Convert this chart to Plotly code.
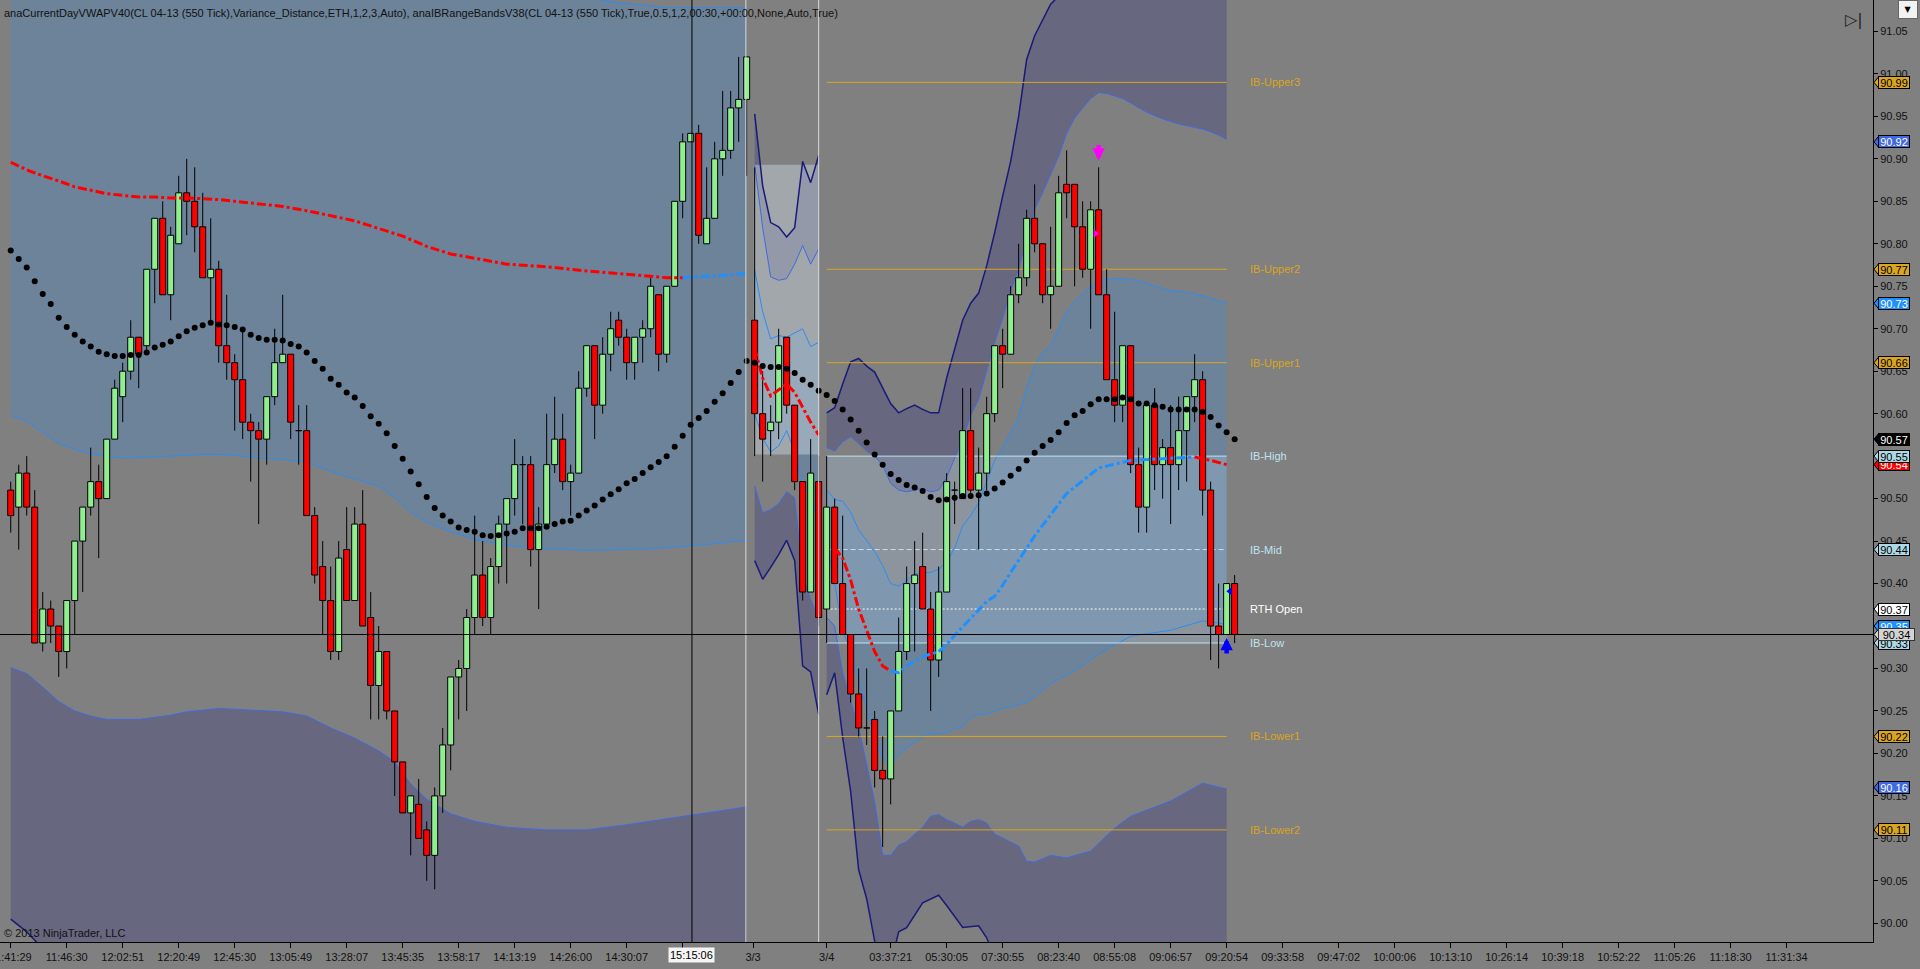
import plotly.graph_objects as go

FONT = "Liberation Sans, Arial, sans-serif"

# ---- candles (550 tick bars, bar index on x) ----
bars = list(range(154))
opens = [90.51, 90.49, 90.53, 90.49, 90.33, 90.37, 90.35, 90.32, 90.38, 90.45,
         90.49, 90.52, 90.50, 90.57, 90.62, 90.65, 90.69, 90.68, 90.77, 90.83,
         90.74, 90.80, 90.86, 90.85, 90.82, 90.76, 90.77, 90.68, 90.66, 90.64,
         90.59, 90.58, 90.57, 90.62, 90.66, 90.67, 90.58, 90.58, 90.48, 90.42,
         90.38, 90.32, 90.44, 90.38, 90.47, 90.36, 90.28, 90.32, 90.25, 90.19,
         90.13, 90.14, 90.11, 90.08, 90.15, 90.21, 90.29, 90.30, 90.36, 90.41,
         90.36, 90.42, 90.47, 90.50, 90.54, 90.54, 90.44, 90.47, 90.54, 90.57,
         90.52, 90.53, 90.63, 90.68, 90.61, 90.67, 90.71, 90.69, 90.66, 90.69,
         90.70, 90.74, 90.67, 90.75, 90.85, 90.92, 90.93, 90.80, 90.83, 90.90,
         90.91, 90.96, 90.97, 90.71, 90.60, 90.58, 90.59, 90.69, 90.61, 90.52,
         90.39, 90.52, 90.37, 90.49, 90.40, 90.34, 90.27, 90.23, 90.24, 90.18,
         90.17, 90.25, 90.32, 90.40, 90.42, 90.37, 90.31, 90.39, 90.51, 90.50,
         90.58, 90.51, 90.53, 90.60, 90.68, 90.67, 90.74, 90.76, 90.83, 90.80,
         90.74, 90.75, 90.87, 90.87, 90.82, 90.77, 90.84, 90.74, 90.64, 90.61,
         90.68, 90.54, 90.49, 90.61, 90.54, 90.56, 90.54, 90.58, 90.62, 90.64,
         90.51, 90.35, 90.34, 90.40]
highs = [90.52, 90.54, 90.55, 90.51, 90.39, 90.38, 90.35, 90.38, 90.45, 90.49,
         90.56, 90.54, 90.57, 90.64, 90.66, 90.71, 90.69, 90.77, 90.83, 90.85,
         90.82, 90.88, 90.90, 90.89, 90.86, 90.83, 90.78, 90.74, 90.67, 90.70,
         90.60, 90.59, 90.62, 90.70, 90.74, 90.67, 90.61, 90.61, 90.49, 90.45,
         90.42, 90.45, 90.49, 90.49, 90.51, 90.39, 90.35, 90.32, 90.25, 90.19,
         90.15, 90.17, 90.12, 90.16, 90.23, 90.29, 90.31, 90.37, 90.48, 90.45,
         90.43, 90.48, 90.50, 90.57, 90.55, 90.55, 90.49, 90.60, 90.62, 90.60,
         90.54, 90.65, 90.68, 90.68, 90.69, 90.72, 90.72, 90.70, 90.69, 90.71,
         90.76, 90.74, 90.75, 90.85, 90.93, 90.93, 90.94, 90.89, 90.92, 90.98,
         90.98, 91.02, 91.02, 90.89, 90.65, 90.61, 90.70, 90.69, 90.61, 90.52,
         90.57, 90.55, 90.55, 90.50, 90.48, 90.34, 90.30, 90.30, 90.25, 90.22,
         90.25, 90.36, 90.42, 90.45, 90.46, 90.39, 90.42, 90.53, 90.52, 90.63,
         90.63, 90.56, 90.62, 90.68, 90.70, 90.75, 90.80, 90.84, 90.87, 90.80,
         90.82, 90.88, 90.91, 90.87, 90.85, 90.85, 90.89, 90.77, 90.72, 90.68,
         90.68, 90.56, 90.61, 90.63, 90.57, 90.61, 90.62, 90.62, 90.67, 90.65,
         90.52, 90.40, 90.40, 90.41]
lows = [90.46, 90.44, 90.48, 90.33, 90.32, 90.33, 90.29, 90.30, 90.34, 90.39,
        90.48, 90.43, 90.50, 90.57, 90.59, 90.64, 90.63, 90.67, 90.73, 90.74,
        90.71, 90.80, 90.81, 90.79, 90.76, 90.71, 90.66, 90.64, 90.58, 90.57,
        90.52, 90.47, 90.54, 90.61, 90.66, 90.57, 90.54, 90.48, 90.40, 90.34,
        90.31, 90.31, 90.38, 90.38, 90.35, 90.24, 90.24, 90.24, 90.15, 90.13,
        90.08, 90.10, 90.05, 90.04, 90.13, 90.18, 90.24, 90.25, 90.34, 90.35,
        90.34, 90.40, 90.40, 90.48, 90.47, 90.42, 90.37, 90.47, 90.53, 90.51,
        90.48, 90.53, 90.62, 90.57, 90.60, 90.65, 90.68, 90.64, 90.64, 90.66,
        90.69, 90.65, 90.66, 90.75, 90.83, 90.92, 90.80, 90.80, 90.83, 90.88,
        90.90, 90.92, 90.88, 90.55, 90.52, 90.55, 90.57, 90.60, 90.51, 90.38,
        90.39, 90.35, 90.33, 90.40, 90.34, 90.26, 90.22, 90.21, 90.16, 90.09,
        90.14, 90.25, 90.31, 90.32, 90.37, 90.25, 90.29, 90.39, 90.47, 90.50,
        90.50, 90.44, 90.51, 90.59, 90.63, 90.67, 90.73, 90.75, 90.79, 90.73,
        90.70, 90.75, 90.83, 90.75, 90.76, 90.70, 90.74, 90.64, 90.59, 90.59,
        90.53, 90.46, 90.46, 90.51, 90.50, 90.47, 90.51, 90.52, 90.59, 90.48,
        90.31, 90.30, 90.34, 90.33]
closes = [90.48, 90.53, 90.49, 90.33, 90.37, 90.35, 90.32, 90.38, 90.45, 90.49,
          90.52, 90.50, 90.57, 90.63, 90.65, 90.69, 90.67, 90.77, 90.83, 90.74,
          90.81, 90.86, 90.85, 90.82, 90.76, 90.77, 90.68, 90.66, 90.64, 90.59,
          90.58, 90.57, 90.62, 90.66, 90.67, 90.59, 90.58, 90.48, 90.41, 90.38,
          90.32, 90.43, 90.38, 90.47, 90.35, 90.28, 90.32, 90.25, 90.19, 90.13,
          90.15, 90.10, 90.08, 90.15, 90.21, 90.29, 90.30, 90.36, 90.41, 90.36,
          90.42, 90.47, 90.50, 90.54, 90.54, 90.44, 90.47, 90.54, 90.57, 90.52,
          90.53, 90.63, 90.68, 90.61, 90.67, 90.70, 90.69, 90.66, 90.69, 90.70,
          90.75, 90.67, 90.75, 90.85, 90.92, 90.93, 90.81, 90.83, 90.90, 90.91,
          90.96, 90.97, 91.02, 90.60, 90.57, 90.59, 90.68, 90.61, 90.52, 90.39,
          90.53, 90.36, 90.49, 90.40, 90.34, 90.27, 90.23, 90.23, 90.18, 90.17,
          90.25, 90.32, 90.40, 90.41, 90.37, 90.31, 90.39, 90.52, 90.51, 90.58,
          90.51, 90.53, 90.60, 90.68, 90.67, 90.74, 90.76, 90.83, 90.80, 90.74,
          90.75, 90.86, 90.86, 90.82, 90.77, 90.84, 90.74, 90.64, 90.61, 90.68,
          90.54, 90.49, 90.61, 90.54, 90.56, 90.54, 90.58, 90.62, 90.64, 90.51,
          90.35, 90.34, 90.40, 90.34]

# black dotted average, one value per bar
avg_dots = [90.792, 90.782, 90.772, 90.756, 90.741, 90.729, 90.713, 90.702, 90.693, 90.685,
            90.679, 90.673, 90.670, 90.668, 90.668, 90.669, 90.669, 90.672, 90.678, 90.681,
            90.685, 90.691, 90.697, 90.701, 90.704, 90.707, 90.705, 90.704, 90.702, 90.699,
            90.693, 90.689, 90.687, 90.687, 90.686, 90.682, 90.679, 90.672, 90.662, 90.653,
            90.641, 90.634, 90.625, 90.619, 90.609, 90.597, 90.588, 90.577, 90.562, 90.547,
            90.532, 90.517, 90.502, 90.489, 90.480, 90.473, 90.466, 90.463, 90.461, 90.457,
            90.456, 90.457, 90.459, 90.461, 90.465, 90.465, 90.465, 90.467, 90.470, 90.473,
            90.474, 90.480, 90.486, 90.492, 90.499, 90.505, 90.511, 90.518, 90.523, 90.530,
            90.537, 90.543, 90.550, 90.561, 90.574, 90.587, 90.595, 90.603, 90.614, 90.624,
            90.636, 90.649, 90.662, 90.660, 90.656, 90.655, 90.655, 90.653, 90.648, 90.640,
            90.634, 90.627, 90.622, 90.615, 90.605, 90.593, 90.580, 90.566, 90.552, 90.540,
            90.529, 90.522, 90.516, 90.513, 90.509, 90.502, 90.498, 90.499, 90.501, 90.503,
            90.503, 90.504, 90.506, 90.512, 90.519, 90.527, 90.535, 90.545, 90.554, 90.562,
            90.569, 90.578, 90.589, 90.598, 90.603, 90.611, 90.617, 90.617, 90.617, 90.619,
            90.617, 90.612, 90.612, 90.610, 90.608, 90.605, 90.605, 90.605, 90.605, 90.602,
            90.596, 90.586, 90.578, 90.570]

# ---- VWAP (dash-dot, red falling / blue rising) ----
vw1_red_x = [0, 2, 4, 6, 8, 10, 12, 14, 16, 18, 20, 22, 24, 26, 28, 31, 34, 37, 40, 43,
             46, 49, 52, 55, 58, 62, 67, 72, 77, 82, 84]
vw1_red = [90.896, 90.887, 90.880, 90.874, 90.867, 90.863, 90.859, 90.857, 90.855, 90.855,
           90.854, 90.854, 90.853, 90.852, 90.850, 90.847, 90.844, 90.839, 90.833, 90.827,
           90.818, 90.809, 90.797, 90.788, 90.783, 90.776, 90.773, 90.768, 90.764, 90.760, 90.760]
vw1_blue_x = [84, 85, 88, 92]
vw1_blue = [90.760, 90.761, 90.762, 90.765]
vw2_red_x = list(range(93, 102))
vw2_red = [90.677, 90.642, 90.621, 90.628, 90.635, 90.625, 90.607, 90.590, 90.575]
vw3_red_x = [103, 104, 105, 106, 107, 108, 109, 110]
vw3_red = [90.442, 90.430, 90.404, 90.370, 90.345, 90.320, 90.303, 90.297]
vw3_blue_x = [110, 111, 112, 113, 114, 116, 117, 118, 119, 120, 121, 122, 123, 124, 125,
              128, 132, 136, 140, 144, 148]
vw3_blue = [90.297, 90.295, 90.303, 90.309, 90.314, 90.320, 90.328, 90.339, 90.349, 90.360,
            90.370, 90.379, 90.385, 90.398, 90.413, 90.456, 90.506, 90.536, 90.545, 90.547, 90.549]
vw3_red2_x = [148, 150, 152]
vw3_red2 = [90.549, 90.545, 90.540]

# ---- deviation bands, session 1 (bars 0-92) ----
s1_sd1u_x = [0, 20, 40, 60, 75, 82, 92]
s1_sd1u = [91.19, 91.16, 91.14, 91.11, 91.085, 91.078, 91.078]
s1_sd1l_x = [0, 2, 4, 6, 8, 10, 12, 14, 16, 18, 20, 22, 24, 26, 28, 31, 34, 37, 40, 43,
             46, 48, 50, 52, 55, 58, 62, 67, 72, 77, 82, 87, 92]
s1_sd1l = [90.598, 90.591, 90.578, 90.565, 90.558, 90.553, 90.549, 90.548, 90.548, 90.549,
           90.550, 90.551, 90.552, 90.552, 90.551, 90.548, 90.546, 90.543, 90.532, 90.523,
           90.515, 90.501, 90.484, 90.472, 90.461, 90.452, 90.445, 90.441, 90.439, 90.440,
           90.442, 90.446, 90.451]
s1_sd2l_x = [0, 2, 4, 6, 8, 10, 12, 16, 20, 22, 26, 31, 34, 37, 40, 43, 46, 48, 50, 52,
             55, 58, 62, 67, 72, 77, 82, 87, 92]
s1_sd2l = [90.301, 90.294, 90.278, 90.261, 90.250, 90.244, 90.240, 90.240, 90.245, 90.249,
           90.253, 90.250, 90.249, 90.244, 90.230, 90.218, 90.203, 90.190, 90.164, 90.146,
           90.129, 90.120, 90.113, 90.110, 90.110, 90.116, 90.123, 90.130, 90.137]
s1_sd3l_x = [0, 1, 2, 3, 5, 92]
s1_sd3l = [90.005, 89.998, 89.990, 89.980, 89.960, 89.900]

# ---- session 2 (3/3 evening, bars 93-101) ----
s2_x = list(range(93, 102))
s2_sd3u = [90.953, 90.868, 90.825, 90.820, 90.808, 90.819, 90.897, 90.872, 90.904]
s2_sd2u = [90.893, 90.819, 90.761, 90.757, 90.759, 90.776, 90.798, 90.776, 90.794]
s2_sd1u = [90.769, 90.720, 90.688, 90.692, 90.690, 90.695, 90.700, 90.679, 90.684]
s2_sd1l = [90.600, 90.571, 90.555, 90.562, 90.580, 90.555, 90.515, 90.505, 90.466]
s2_sd2l = [90.515, 90.483, 90.487, 90.494, 90.508, 90.501, 90.409, 90.381, 90.359]
s2_sd3l = [90.427, 90.405, 90.419, 90.434, 90.451, 90.427, 90.303, 90.296, 90.246]
s2_box_x = [92.9, 101.0]
s2_box_y = [90.552, 90.893]

# ---- session 3 (3/4, bars 102-152) ----
s3_x = list(range(102, 153))
s3_sd3u_x = list(range(102, 131)) + [135, 140, 145, 152]
s3_sd3u = [90.601, 90.607, 90.635, 90.661, 90.665, 90.656, 90.649, 90.631, 90.612, 90.601,
           90.606, 90.610, 90.605, 90.601, 90.601, 90.642, 90.675, 90.710, 90.730, 90.742,
           90.774, 90.813, 90.856, 90.897, 90.950, 91.017, 91.045, 91.063, 91.082,
           91.130, 91.150, 91.160, 91.160]
s3_sd2u = [90.560, 90.556, 90.567, 90.573, 90.565, 90.556, 90.550, 90.539, 90.518, 90.510,
           90.508, 90.510, 90.512, 90.508, 90.510, 90.525, 90.548, 90.570, 90.598, 90.617,
           90.650, 90.684, 90.712, 90.745, 90.770, 90.805, 90.840, 90.860, 90.882, 90.903,
           90.930, 90.948, 90.960, 90.971, 90.978, 90.977, 90.974, 90.971, 90.966, 90.960,
           90.955, 90.951, 90.947, 90.944, 90.941, 90.939, 90.937, 90.935, 90.932, 90.928, 90.923]
s3_sd1u = [90.510, 90.499, 90.497, 90.484, 90.463, 90.451, 90.438, 90.421, 90.400, 90.397,
           90.404, 90.411, 90.413, 90.413, 90.417, 90.425, 90.442, 90.468, 90.480, 90.495,
           90.520, 90.545, 90.560, 90.578, 90.596, 90.630, 90.656, 90.672, 90.680, 90.700,
           90.720, 90.732, 90.741, 90.750, 90.755, 90.758, 90.759, 90.759, 90.758, 90.756,
           90.754, 90.750, 90.748, 90.745, 90.744, 90.743, 90.741, 90.739, 90.736, 90.733, 90.730]
s3_sd1l_x = list(range(102, 126)) + [127, 130, 134, 136, 140, 145, 149, 152]
s3_sd1l = [90.450, 90.400, 90.345, 90.320, 90.286, 90.252, 90.219, 90.193, 90.187, 90.198,
           90.206, 90.214, 90.219, 90.223, 90.223, 90.225, 90.229, 90.231, 90.242, 90.246,
           90.246, 90.250, 90.253, 90.255,
           90.260, 90.282, 90.303, 90.317, 90.338, 90.345, 90.356, 90.352]
s3_sd2l_x = list(range(102, 126)) + [126, 127, 128, 130, 132, 135, 138, 140, 145, 149, 152]
s3_sd2l = [90.360, 90.350, 90.295, 90.261, 90.231, 90.185, 90.143, 90.080, 90.080, 90.092,
           90.096, 90.105, 90.113, 90.126, 90.128, 90.122, 90.118, 90.113, 90.120, 90.122,
           90.118, 90.105, 90.100, 90.095,
           90.091, 90.073, 90.072, 90.080, 90.077, 90.085, 90.112, 90.126, 90.144, 90.165, 90.158]
s3_sd3l_x = [102, 103, 104, 105, 106, 107, 108, 109, 110, 111, 112, 114, 116, 117, 119,
             121, 122, 123, 126, 130, 140, 152]
s3_sd3l = [90.269, 90.295, 90.219, 90.155, 90.063, 90.029, 89.979, 89.950, 89.950, 89.990,
           89.995, 90.024, 90.033, 90.021, 89.995, 89.997, 89.983, 89.960, 89.930, 89.920,
           89.920, 89.930]

# ---- initial balance levels (3/4) ----
ib_x = [102, 152]
ib_names = ["IB-Upper3", "IB-Upper2", "IB-Upper1", "IB-High", "IB-Mid", "RTH Open",
            "IB-Low", "IB-Lower1", "IB-Lower2"]
ib_levels = [90.99, 90.77, 90.66, 90.55, 90.44, 90.37, 90.33, 90.22, 90.11]

# ---- x axis labels ----
tick_bars = [0, 7, 14, 21, 28, 35, 42, 49, 56, 63, 70, 77, 84, 92.8, 102,
             110, 117, 124, 131, 138, 145, 152, 159, 166, 173, 180, 187, 194, 201, 208, 215, 222]
tick_text = ["11:41:29", "11:46:30", "12:02:51", "12:20:49", "12:45:30", "13:05:49",
             "13:28:07", "13:45:35", "13:58:17", "14:13:19", "14:26:00", "14:30:07", "",
             "3/3", "3/4", "03:37:21", "05:30:05", "07:30:55", "08:23:40", "08:55:08",
             "09:06:57", "09:20:54", "09:33:58", "09:47:02", "10:00:06", "10:13:10",
             "10:26:14", "10:39:18", "10:52:22", "11:05:26", "11:18:30", "11:31:34"]

# price markers on the right axis (drawn in this order)
tag_prices = [90.99, 90.92, 90.77, 90.73, 90.66, 90.57, 90.54, 90.55, 90.44, 90.37,
              90.35, 90.33, 90.22, 90.16, 90.11]
tag_bg = ["#DAA520", "#4169E1", "#DAA520", "#1E90FF", "#DAA520", "#000000", "#FF0000",
          "#ADD8E6", "#ADD8E6", "#FFFFFF", "#1E90FF", "#ADD8E6", "#DAA520", "#4169E1", "#DAA520"]
tag_fg = ["black", "white", "black", "white", "black", "white", "white",
          "black", "black", "black", "white", "black", "black", "white", "black"]

cross_bar = 85.16
cross_price = 90.34

BG = "#808080"
SD1_FILL = "#6D8399"
SD23_FILL = "#67677F"
SD1_LINE = "#2F8CF0"
SD2_LINE = "#4169E1"
SD3_LINE = "#1A1A78"
HALF = 0.375  # half body width in bars


def band(xu, yu, xl, yl, color):
    return go.Scatter(x=list(xu) + list(xl)[::-1], y=list(yu) + list(yl)[::-1],
                      fill="toself", fillcolor=color, mode="lines", line=dict(width=0),
                      hoverinfo="skip", showlegend=False)


def line(x, y, color, width=1, dash="solid"):
    return go.Scatter(x=x, y=y, mode="lines", line=dict(color=color, width=width, dash=dash),
                      hoverinfo="skip", showlegend=False)


fig = go.Figure()

# band fills
fig.add_trace(band(s1_sd1u_x, s1_sd1u, s1_sd1l_x, s1_sd1l, SD1_FILL))
fig.add_trace(band(s1_sd2l_x, s1_sd2l, s1_sd3l_x, s1_sd3l, SD23_FILL))
fig.add_trace(band(s2_x, s2_sd3u, s2_x, s2_sd2u, SD23_FILL))
fig.add_trace(band(s2_x, s2_sd1u, s2_x, s2_sd1l, SD1_FILL))
fig.add_trace(band(s2_x, s2_sd2l, s2_x, s2_sd3l, SD23_FILL))
fig.add_trace(band(s3_sd3u_x, s3_sd3u, s3_x, s3_sd2u, SD23_FILL))
fig.add_trace(band(s3_x, s3_sd1u, s3_sd1l_x, s3_sd1l, SD1_FILL))
fig.add_trace(band(s3_sd2l_x, s3_sd2l, s3_sd3l_x, s3_sd3l, SD23_FILL))

# range boxes
fig.add_trace(band(s2_box_x, [s2_box_y[1]] * 2, s2_box_x, [s2_box_y[0]] * 2,
                   "rgba(205,215,225,0.45)"))
fig.add_trace(band(ib_x, [ib_levels[3]] * 2, ib_x, [ib_levels[6]] * 2,
                   "rgba(170,200,230,0.30)"))

# band lines
fig.add_trace(line(s1_sd1u_x, s1_sd1u, SD1_LINE))
fig.add_trace(line(s1_sd1l_x, s1_sd1l, SD1_LINE))
fig.add_trace(line(s1_sd2l_x, s1_sd2l, SD2_LINE))
fig.add_trace(line(s1_sd3l_x, s1_sd3l, SD3_LINE, 1.5))
for ys, col, w in [(s2_sd3u, SD3_LINE, 1.5), (s2_sd2u, SD2_LINE, 1), (s2_sd1u, SD1_LINE, 1),
                   (s2_sd1l, SD1_LINE, 1), (s2_sd2l, SD2_LINE, 1), (s2_sd3l, SD3_LINE, 1.5)]:
    fig.add_trace(line(s2_x, ys, col, w))
fig.add_trace(line(s3_sd3u_x, s3_sd3u, SD3_LINE, 1.5))
fig.add_trace(line(s3_x, s3_sd2u, SD2_LINE))
fig.add_trace(line(s3_x, s3_sd1u, SD1_LINE))
fig.add_trace(line(s3_sd1l_x, s3_sd1l, SD1_LINE))
fig.add_trace(line(s3_sd2l_x, s3_sd2l, SD2_LINE))
fig.add_trace(line(s3_sd3l_x, s3_sd3l, SD3_LINE, 1.5))

# initial balance lines
ib_colors = ["#DAA520", "#DAA520", "#DAA520", "#BFE3F0", "#BFE3F0", "#FFFFFF",
             "#BFE3F0", "#DAA520", "#DAA520"]
ib_dash = ["solid", "solid", "solid", "solid", "5px,3px", "2px,2px", "solid", "solid", "solid"]
for lvl, col, d in zip(ib_levels, ib_colors, ib_dash):
    fig.add_trace(line(ib_x, [lvl, lvl], col, 1, d))

# candles, built as scatter paths so they sit above the band fills
wick_x, wick_y = [], []
up_x, up_y, dn_x, dn_y = [], [], [], []
for b, o, h, l, c in zip(bars, opens, highs, lows, closes):
    wick_x += [b, b, None]
    wick_y += [h, l, None]
    bx = [b - HALF, b + HALF, b + HALF, b - HALF, b - HALF, None]
    by = [o, o, c, c, o, None]
    if c >= o:
        up_x += bx
        up_y += by
    else:
        dn_x += bx
        dn_y += by
fig.add_trace(go.Scatter(x=wick_x, y=wick_y, mode="lines", line=dict(color="black", width=1),
                         hoverinfo="skip", showlegend=False))
fig.add_trace(go.Scatter(x=up_x, y=up_y, mode="lines", fill="toself", fillcolor="#90EE90",
                         line=dict(color="black", width=1), hoverinfo="skip", showlegend=False))
fig.add_trace(go.Scatter(x=dn_x, y=dn_y, mode="lines", fill="toself", fillcolor="#FF0000",
                         line=dict(color="black", width=1), hoverinfo="skip", showlegend=False))

# vwap and dotted average on top of candles
for xs, ys, col in [(vw1_red_x, vw1_red, "#FF0000"), (vw1_blue_x, vw1_blue, "#1E90FF"),
                    (vw2_red_x, vw2_red, "#FF0000"), (vw3_red_x, vw3_red, "#FF0000"),
                    (vw3_blue_x, vw3_blue, "#1E90FF"), (vw3_red2_x, vw3_red2, "#FF0000")]:
    fig.add_trace(line(xs, ys, col, 3, "dashdot"))
fig.add_trace(go.Scatter(x=bars, y=avg_dots, mode="markers",
                         marker=dict(color="black", size=6, line=dict(width=0)),
                         hoverinfo="skip", showlegend=False))

# small signal triangles
fig.add_trace(go.Scatter(x=[135.6], y=[90.812], mode="markers",
                         marker=dict(symbol="triangle-right", color="#FF00FF", size=7),
                         hoverinfo="skip", showlegend=False))
fig.add_trace(go.Scatter(x=[152.4], y=[90.391], mode="markers",
                         marker=dict(symbol="triangle-left", color="#0000FF", size=7),
                         hoverinfo="skip", showlegend=False))

shapes = []
# session separators
for xb in [91.9, 101.0]:
    shapes.append(dict(type="line", xref="x", yref="paper", x0=xb, x1=xb, y0=0, y1=1,
                       line=dict(color="#D8D8D8", width=1), layer="above"))
# crosshair
shapes.append(dict(type="line", xref="x", yref="paper", x0=cross_bar, x1=cross_bar, y0=0, y1=1,
                   line=dict(color="black", width=1), layer="above"))
shapes.append(dict(type="line", xref="paper", yref="y", x0=0, x1=1, y0=cross_price, y1=cross_price,
                   line=dict(color="black", width=1), layer="above"))
# pointers of the price markers
for p, bg in zip(tag_prices + [cross_price], tag_bg + ["#D3D3D3"]):
    shapes.append(dict(type="path", xref="paper", yref="y", xsizemode="pixel", ysizemode="pixel",
                       xanchor=1, yanchor=p, path="M1,0 L6,6 L6,-6 Z",
                       fillcolor=bg, line=dict(color="black", width=1), layer="above"))

annotations = []
annotations.append(dict(
    text="anaCurrentDayVWAPV40(CL 04-13 (550 Tick),Variance_Distance,ETH,1,2,3,Auto), "
         "anaIBRangeBandsV38(CL 04-13 (550 Tick),True,0.5,1,2,00:30,+00:00,None,Auto,True)",
    xref="paper", yref="paper", x=0, y=1, xanchor="left", yanchor="top", xshift=2, yshift=-5,
    showarrow=False, font=dict(family=FONT, size=11, color="#111111")))
annotations.append(dict(text="© 2013 NinjaTrader, LLC", xref="paper", yref="paper", x=0, y=0,
                        xanchor="left", yanchor="bottom", xshift=2, yshift=1, showarrow=False,
                        font=dict(family=FONT, size=11, color="#111111")))
for name, lvl, col in zip(ib_names, ib_levels, ["#DAA520"] * 3 + ["#BFE3F0"] * 2 + ["#FFFFFF"]
                          + ["#BFE3F0"] + ["#DAA520"] * 2):
    annotations.append(dict(text=name, x=154.7, y=lvl, xref="x", yref="y", xanchor="left",
                            yanchor="middle", showarrow=False,
                            font=dict(family=FONT, size=11, color=col)))
# arrows
annotations.append(dict(x=136, y=90.898, ax=0, ay=-17, xref="x", yref="y", text="",
                        showarrow=True, arrowhead=2, arrowsize=0.55, arrowwidth=4.5,
                        arrowcolor="#FF00FF", standoff=0))
annotations.append(dict(x=152, y=90.336, ax=0, ay=17, xref="x", yref="y", text="",
                        showarrow=True, arrowhead=2, arrowsize=0.55, arrowwidth=4.5,
                        arrowcolor="#0000FF", standoff=0))
# right axis price markers
for p, bg, fg in zip(tag_prices, tag_bg, tag_fg):
    annotations.append(dict(text=f"{p:.2f}", x=1, y=p, xref="paper", yref="y", xanchor="left",
                            yanchor="middle", xshift=5, showarrow=False, width=30, height=11,
                            bgcolor=bg, bordercolor="black", borderwidth=1, borderpad=0,
                            font=dict(family=FONT, size=11, color=fg)))
annotations.append(dict(text=f"{cross_price:.2f}", x=1, y=cross_price, xref="paper", yref="y",
                        xanchor="left", yanchor="middle", xshift=5, showarrow=False, width=35,
                        height=11, bgcolor="#D3D3D3", bordercolor="#333333", borderwidth=1,
                        borderpad=0, font=dict(family=FONT, size=11, color="black")))
# crosshair time label
annotations.append(dict(text="15:15:06", x=cross_bar, y=0, xref="x", yref="paper",
                        xanchor="center", yanchor="top", yshift=-5, showarrow=False,
                        bgcolor="#F4F4F4", borderpad=1,
                        font=dict(family=FONT, size=11, color="black")))
# chart buttons at top right
annotations.append(dict(text="▷|", x=1, y=1, xref="paper", yref="paper", xanchor="right",
                        yanchor="top", xshift=-8, yshift=-8, showarrow=False,
                        font=dict(family="DejaVu Sans", size=16, color="#222222")))
annotations.append(dict(text="▼", x=1, y=1, xref="paper", yref="paper", xanchor="left",
                        yanchor="top", xshift=25, yshift=0, showarrow=False, width=16, height=15,
                        bgcolor="#F2F2F2", bordercolor="#666666", borderwidth=1,
                        font=dict(family="DejaVu Sans", size=8, color="black")))

fig.update_layout(
    width=1920, height=969,
    margin=dict(l=0, r=47, t=0, b=27, autoexpand=False),
    paper_bgcolor=BG, plot_bgcolor=BG,
    showlegend=False, hovermode=False,
    font=dict(family=FONT, size=11, color="#111111"),
    shapes=shapes, annotations=annotations,
    xaxis=dict(range=[-1.34, 232.8], tickvals=tick_bars, ticktext=tick_text,
               ticks="outside", ticklen=5, tickcolor="black", showline=True, linecolor="black",
               linewidth=1, showgrid=False, zeroline=False, ticklabeloverflow="allow",
               automargin=False,
               tickfont=dict(family=FONT, size=11, color="#111111"), fixedrange=True),
    yaxis=dict(range=[89.978, 91.087], side="right", dtick=0.05, tick0=90.0, tickformat=".2f",
               ticks="outside", ticklen=4, tickcolor="black", showline=True, linecolor="black",
               linewidth=1, showgrid=False, zeroline=False, automargin=False,
               tickfont=dict(family=FONT, size=11, color="#111111"), fixedrange=True),
)

fig.write_html("out.html", config={"displayModeBar": False},
               post_script="document.body.style.margin='0';")
